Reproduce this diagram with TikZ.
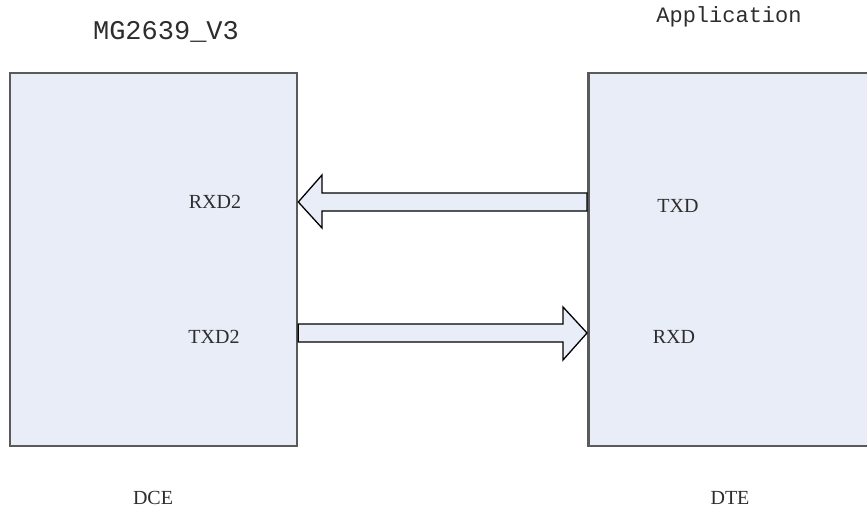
\documentclass[tikz,border=0pt]{standalone}
\usepackage{fontspec}
\setmainfont{Liberation Serif}
\setmonofont{Liberation Mono}
\usetikzlibrary{calc}
\usetikzlibrary{positioning}

\definecolor{boxfill}{RGB}{232,237,247}
\definecolor{boxline}{RGB}{90,90,90}
\definecolor{txtgray}{RGB}{45,45,45}

\tikzset{
	unitbox/.style={rectangle, draw=boxline, line width=2.6pt, fill=boxfill, inner sep=0pt},
	pinlabel/.style={text=txtgray, font=\fontsize{20}{22}\selectfont},
	sidelabel/.style={text=txtgray, font=\fontsize{20}{22}\selectfont},
	blockarrow/.style={draw=black, line width=1.3pt, fill=boxfill, line join=miter}
}

\begin{document}
\begin{tikzpicture}[x=1pt, y=1pt]
				\clip (0,0) rectangle (867,515);
				\fill[white] (0,0) rectangle (867,515);

				\node[unitbox, minimum width=287pt, minimum height=373pt] (dce) at (153.5,255.5) {};
				\node[unitbox, minimum width=300pt, minimum height=373pt, anchor=west] (dte) at (587,255.5) {};

				\node[text=txtgray, font=\ttfamily\fontsize{27}{28}\selectfont] (modname) at (166,483) {MG2639\_V3};
				\node[text=txtgray, font=\ttfamily\fontsize{22}{24}\selectfont] (appname) at (729,498) {Application};

				\node[pinlabel] (rxd2) at (215,313) {RXD2};
				\node[pinlabel] (txd2) at (214,178) {TXD2};
				\node[pinlabel] (txd) at (678,309) {TXD};
				\node[pinlabel] (rxd) at (674,178) {RXD};

				\node[sidelabel] (dcelab) at (153,17) {DCE};
				\node[sidelabel] (dtelab) at (730,17) {DTE};

				% DTE TXD -> DCE RXD2
				\draw[blockarrow] (dte.west |- 0,322) -- (322,322) -- (322,340) -- (dce.east |- 0,313)
					-- (322,287) -- (322,304) -- (dte.west |- 0,304) -- cycle;
				% DCE TXD2 -> DTE RXD
				\draw[blockarrow] (dce.east |- 0,191) -- (563,191) -- (563,208) -- (dte.west |- 0,182)
					-- (563,155) -- (563,173) -- (dce.east |- 0,173) -- cycle;
\end{tikzpicture}
\end{document}
